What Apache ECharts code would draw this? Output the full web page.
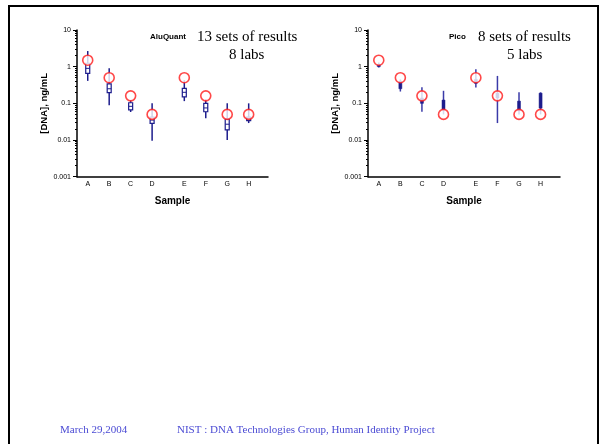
<!DOCTYPE html>
<html>
<head>
<meta charset="utf-8">
<script src="https://cdn.jsdelivr.net/npm/echarts@6/dist/echarts.min.js"></script>
<style>
html,body{margin:0;padding:0;background:#fff;}
#chart{width:604px;height:444px;}
</style>
</head>
<body>
<div id="chart"></div>
<script>
// ---- data ----
const samples = ['A','B','C','D','E','F','G','H'];
const samplePos = [1, 2, 3, 4, 5.5, 6.5, 7.5, 8.5];
const yTickLabels = ['0.001','0.01','0.1','1','10'];
const expected = [1.5, 0.5, 0.16, 0.05, 0.5, 0.16, 0.05, 0.05];

// AluQuant: 13 sets of results, 8 labs
const aluLow  = [0.41, 0.089, 0.058, 0.0095, 0.115, 0.039, 0.010, 0.029];
const aluQ1   = [0.66, 0.195, 0.066, 0.0285, 0.150, 0.059, 0.019, 0.034];
const aluMed  = [0.90, 0.250, 0.083, 0.035, 0.200, 0.075, 0.027, 0.038];
const aluQ3   = [1.24, 0.340, 0.104, 0.042, 0.257, 0.100, 0.037, 0.042];
const aluHigh = [2.67, 0.900, 0.123, 0.100, 0.430, 0.130, 0.100, 0.100];

// Pico: 8 sets of results, 5 labs
const picoLow  = [0.95, 0.21, 0.059, 0.050, 0.27, 0.029, 0.050, 0.050];
const picoQ1   = [1.00, 0.25, 0.100, 0.066, 0.35, 0.140, 0.063, 0.074];
const picoMed  = [1.08, 0.32, 0.120, 0.090, 0.40, 0.160, 0.085, 0.120];
const picoQ3   = [1.15, 0.40, 0.140, 0.123, 0.45, 0.190, 0.115, 0.190];
const picoHigh = [1.30, 0.45, 0.275, 0.220, 0.85, 0.560, 0.200, 0.200];

function boxData(low, q1, med, q3, high) {
  return samples.map((s, i) => [samplePos[i], low[i], q1[i], med[i], q3[i], high[i]]);
}
function pointData(vals) {
  return samples.map((s, i) => [samplePos[i], vals[i]]);
}

const NAVY = '#1c1c8c';
const FONT = 'Liberation Sans, Arial, sans-serif';
const SERIF = 'Liberation Serif, Times New Roman, serif';

function makeRender(hollow) {
  return function (params, api) {
    const x = api.value(0);
    const pLow = api.coord([x, api.value(1)]);
    const pQ1 = api.coord([x, api.value(2)]);
    const pMed = api.coord([x, api.value(3)]);
    const pQ3 = api.coord([x, api.value(4)]);
    const pHigh = api.coord([x, api.value(5)]);
    const w = hollow ? 4 : 3;
    const children = [
      { type: 'line', shape: { x1: pHigh[0], y1: pHigh[1], x2: pLow[0], y2: pLow[1] },
        style: { stroke: hollow ? NAVY : '#3a3aa8', lineWidth: 1.5 } },
      { type: 'rect', shape: { x: pQ3[0] - w / 2, y: pQ3[1], width: w, height: pQ1[1] - pQ3[1] },
        style: hollow ? { fill: '#fff', stroke: NAVY, lineWidth: 1.2 } : { fill: NAVY, stroke: NAVY, lineWidth: 0.5 } }
    ];
    if (hollow) {
      children.push({ type: 'line', shape: { x1: pMed[0] - w / 2, y1: pMed[1], x2: pMed[0] + w / 2, y2: pMed[1] },
        style: { stroke: NAVY, lineWidth: 1 } });
    }
    return { type: 'group', children: children };
  };
}

function xAxisCfg(gi) {
  return {
    gridIndex: gi, type: 'value', min: 0.5, max: 9.4, interval: 0.5,
    name: 'Sample', nameLocation: 'middle', nameGap: 20,
    nameTextStyle: { fontFamily: FONT, fontSize: 10, fontWeight: 'bold', color: '#000' },
    axisLine: { show: true, lineStyle: { color: '#000', width: 1.5 } },
    axisTick: { show: false },
    splitLine: { show: false },
    axisLabel: {
      fontFamily: FONT, fontSize: 7, color: '#000', margin: 4, showMinLabel: true, showMaxLabel: true,
      formatter: v => { const i = samplePos.indexOf(v); return i >= 0 ? samples[i] : ''; }
    }
  };
}
function yAxisCfg(gi) {
  return {
    gridIndex: gi, type: 'log', logBase: 10, min: 0.001, max: 10,
    name: '[DNA], ng/mL', nameLocation: 'middle', nameRotate: 90, nameGap: 27,
    nameTextStyle: { fontFamily: FONT, fontSize: 9.5, fontWeight: 'bold', color: '#000' },
    axisLine: { show: true, lineStyle: { color: '#000', width: 1.5 } },
    axisTick: { show: true, inside: false, length: 4, lineStyle: { color: '#000', width: 1 } },
    minorTick: { show: true, splitNumber: 9, length: 2, lineStyle: { color: '#000', width: 1 } },
    splitLine: { show: false },
    axisLabel: {
      fontFamily: FONT, fontSize: 7, color: '#000', margin: 6,
      formatter: v => yTickLabels[Math.round(Math.log10(v)) + 3]
    }
  };
}

const circleStyle = { color: '#fff', borderColor: '#ff1a1a', borderWidth: 1.6 };

const chart = echarts.init(document.getElementById('chart'), null, { renderer: 'canvas' });
chart.setOption({
  backgroundColor: '#fff',
  animation: false,
  grid: [
    { left: 77, top: 30, width: 191, height: 146.7 },
    { left: 368, top: 30, width: 192, height: 146.7 }
  ],
  xAxis: [xAxisCfg(0), xAxisCfg(1)],
  yAxis: [yAxisCfg(0), yAxisCfg(1)],
  series: [
    { type: 'custom', name: 'AluQuant', xAxisIndex: 0, yAxisIndex: 0, clip: false, z: 2,
      renderItem: makeRender(true), data: boxData(aluLow, aluQ1, aluMed, aluQ3, aluHigh) },
    { type: 'scatter', name: 'AluQuant expected', xAxisIndex: 0, yAxisIndex: 0, z: 5,
      symbol: 'circle', symbolSize: 10, itemStyle: circleStyle, data: pointData(expected) },
    { type: 'custom', name: 'Pico', xAxisIndex: 1, yAxisIndex: 1, clip: false, z: 2,
      renderItem: makeRender(false), data: boxData(picoLow, picoQ1, picoMed, picoQ3, picoHigh) },
    { type: 'scatter', name: 'Pico expected', xAxisIndex: 1, yAxisIndex: 1, z: 5,
      symbol: 'circle', symbolSize: 10, itemStyle: circleStyle, data: pointData(expected) }
  ],
  graphic: [
    { type: 'polyline', shape: { points: [[9, 444], [9, 6], [598, 6], [598, 444]] },
      style: { stroke: '#000', lineWidth: 2, fill: null }, silent: true },
    { type: 'text', left: 150, top: 33, style: { text: 'AluQuant', font: 'bold 8px ' + FONT, fill: '#000' } },
    { type: 'text', left: 197, top: 29.5, style: { text: '13 sets of results', font: '15px ' + SERIF, fill: '#000' } },
    { type: 'text', left: 229, top: 47.5, style: { text: '8 labs', font: '15px ' + SERIF, fill: '#000' } },
    { type: 'text', left: 449, top: 33, style: { text: 'Pico', font: 'bold 8px ' + FONT, fill: '#000' } },
    { type: 'text', left: 478, top: 29.5, style: { text: '8 sets of results', font: '15px ' + SERIF, fill: '#000' } },
    { type: 'text', left: 507, top: 47.5, style: { text: '5 labs', font: '15px ' + SERIF, fill: '#000' } },
    { type: 'text', left: 60, top: 425, style: { text: 'March 29,2004', font: '11px ' + SERIF, fill: '#4b4bd4' } },
    { type: 'text', left: 177, top: 425, style: { text: 'NIST : DNA Technologies Group, Human Identity Project', font: '11px ' + SERIF, fill: '#4b4bd4' } }
  ]
});
</script>
</body>
</html>
